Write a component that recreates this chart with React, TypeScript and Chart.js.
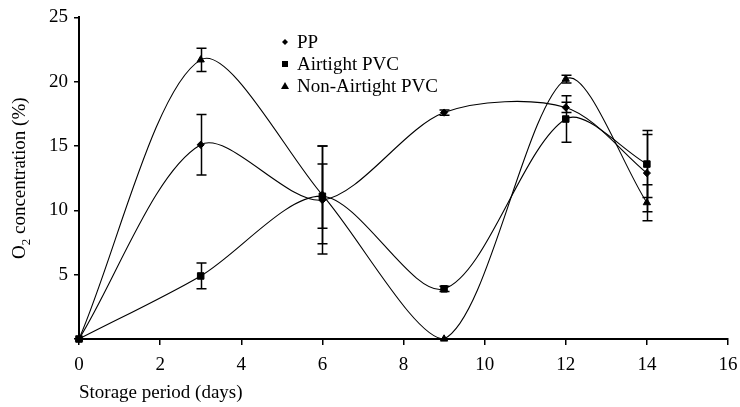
import React, { useEffect, useRef } from 'react';
import { Chart, registerables } from 'chart.js';

Chart.register(...registerables);

const days = [0, 3, 6, 9, 12, 14];
const ppValues = [0, 15.1, 10.8, 17.6, 18.0, 12.9];
const ppErrors = [0, 2.35, 4.2, 0.2, 0.4, 3.0];
const airtightValues = [0, 4.9, 11.1, 3.9, 17.1, 13.6];
const airtightErrors = [0, 1.0, 2.5, 0.2, 1.8, 2.6];
const nonAirtightValues = [0, 21.7, 11.2, 0, 20.2, 10.6];
const nonAirtightErrors = [0, 0.9, 3.8, 0, 0.3, 1.4];

const seriesLabels = ['PP', 'Airtight PVC', 'Non-Airtight PVC'];
const xTitle = 'Storage period (days)';

const FONT = "'Liberation Serif', 'Times New Roman', serif";
const errorSets = [ppErrors, airtightErrors, nonAirtightErrors];

const toPoints = (vals: number[]) => days.map((d, i) => ({ x: d, y: vals[i] }));

const errorBarPlugin = {
  id: 'errorBars',
  afterDatasetsDraw(chart: any) {
    const ctx = chart.ctx;
    const xs = chart.scales.x;
    const ys = chart.scales.y;
    ctx.save();
    ctx.strokeStyle = '#000';
    ctx.lineWidth = 1.5;
    chart.data.datasets.forEach((ds: any, di: number) => {
      const errs = errorSets[di];
      ds.data.forEach((p: any, i: number) => {
        const e = errs[i];
        if (!e) return;
        const px = Math.round(xs.getPixelForValue(p.x)) + 0.5;
        const top = ys.getPixelForValue(p.y + e);
        const bot = ys.getPixelForValue(p.y - e);
        ctx.beginPath();
        ctx.moveTo(px, top);
        ctx.lineTo(px, bot);
        ctx.moveTo(px - 5, top);
        ctx.lineTo(px + 5, top);
        ctx.moveTo(px - 5, bot);
        ctx.lineTo(px + 5, bot);
        ctx.stroke();
      });
    });
    ctx.restore();
  },
};

const annotationsPlugin = {
  id: 'annotations',
  afterDraw(chart: any) {
    const ctx = chart.ctx;
    const area = chart.chartArea;
    ctx.save();
    ctx.fillStyle = '#000';
    // Y axis title with subscript
    const big = `19px ${FONT}`;
    const small = `13px ${FONT}`;
    ctx.font = big;
    const wO = ctx.measureText('O').width;
    const rest = ' concentration (%)';
    const wRest = ctx.measureText(rest).width;
    ctx.font = small;
    const w2 = ctx.measureText('2').width;
    const total = wO + w2 + wRest;
    const cy = (area.top + area.bottom) / 2;
    ctx.translate(25, cy + total / 2);
    ctx.rotate(-Math.PI / 2);
    ctx.textBaseline = 'alphabetic';
    ctx.textAlign = 'left';
    ctx.font = big;
    ctx.fillText('O', 0, 0);
    ctx.font = small;
    ctx.fillText('2', wO, 5);
    ctx.font = big;
    ctx.fillText(rest, wO + w2, 0);
    ctx.restore();

    // Legend
    ctx.save();
    ctx.fillStyle = '#000';
    ctx.font = big;
    ctx.textBaseline = 'middle';
    ctx.textAlign = 'left';
    const lx = 285;
    const ly = 42;
    const rowH = 22;
    chart.data.datasets.forEach((ds: any, i: number) => {
      const y = ly + i * rowH;
      ctx.beginPath();
      if (ds.pointStyle === 'rectRot') {
        ctx.moveTo(lx, y - 3);
        ctx.lineTo(lx + 3, y);
        ctx.lineTo(lx, y + 3);
        ctx.lineTo(lx - 3, y);
        ctx.closePath();
      } else if (ds.pointStyle === 'rect') {
        ctx.rect(lx - 3, y - 3, 6, 6);
      } else {
        ctx.moveTo(lx, y - 4);
        ctx.lineTo(lx + 4, y + 3);
        ctx.lineTo(lx - 4, y + 3);
        ctx.closePath();
      }
      ctx.fill();
      ctx.fillText(ds.label, lx + 12, y + 1);
    });
    ctx.restore();
  },
};

export default function App() {
  const ref = useRef<HTMLCanvasElement | null>(null);

  useEffect(() => {
    if (!ref.current) return;
    Chart.defaults.font.family = FONT;
    Chart.defaults.color = '#000';
    const common = {
      borderColor: '#000',
      backgroundColor: '#000',
      pointBackgroundColor: '#000',
      pointBorderColor: '#000',
      borderWidth: 1.1,
      pointBorderWidth: 1,
      tension: 0.3,
      fill: false,
      clip: false as any,
      showLine: true,
    };
    const chart = new Chart(ref.current, {
      type: 'scatter',
      data: {
        datasets: [
          { ...common, label: seriesLabels[0], data: toPoints(ppValues), pointStyle: 'rectRot', pointRadius: 3.6 },
          { ...common, label: seriesLabels[1], data: toPoints(airtightValues), pointStyle: 'rect', pointRadius: 4.6 },
          { ...common, label: seriesLabels[2], data: toPoints(nonAirtightValues), pointStyle: 'triangle', pointRadius: 4.2 },
        ] as any,
      },
      options: {
        responsive: false,
        animation: false,
        layout: { padding: { top: 16, right: 12, left: 0, bottom: 0 } },
        plugins: { legend: { display: false }, tooltip: { enabled: false } },
        scales: {
          x: {
            type: 'linear',
            min: 0,
            max: 16,
            ticks: { stepSize: 2, font: { size: 19 }, color: '#000', padding: 9, maxRotation: 0 },
            grid: { display: true, drawOnChartArea: false, drawTicks: true, tickLength: 6, color: '#000', lineWidth: 1.5 },
            border: { display: true, color: '#000', width: 2 },
            title: { display: true, text: xTitle, align: 'start', font: { size: 19 }, color: '#000', padding: { top: 0, bottom: 3 } },
            afterFit(scale: any) {
              scale.height = 68;
              scale.paddingRight = 8;
              scale.paddingLeft = 8;
            },
          },
          y: {
            type: 'linear',
            min: 0,
            max: 25,
            ticks: {
              stepSize: 5,
              font: { size: 19 },
              color: '#000',
              padding: 6,
              callback: (v: any) => (v === 0 ? '' : String(v)),
            },
            grid: { display: true, drawOnChartArea: false, drawTicks: true, tickLength: 5, color: '#000', lineWidth: 1.5 },
            border: { display: true, color: '#000', width: 2 },
            afterFit(scale: any) { scale.width = 79; },
          },
        },
      } as any,
      plugins: [errorBarPlugin, annotationsPlugin],
    });
    return () => chart.destroy();
  }, []);

  return (
    <div style={{ position: 'absolute', left: 0, top: 0, width: 740, height: 407, background: '#fff' }}>
      <canvas ref={ref} width={740} height={407} style={{ display: 'block', width: 740, height: 407 }} />
    </div>
  );
}
